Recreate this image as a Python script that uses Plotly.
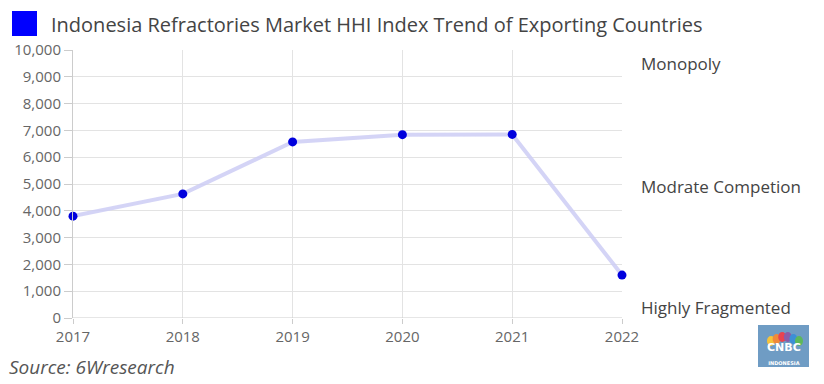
import plotly.graph_objects as go

years = [2017, 2018, 2019, 2020, 2021, 2022]
hhi = [3800, 4630, 6570, 6840, 6850, 1600]
y_ticks = list(range(0, 10001, 1000))
zone_labels = ["Monopoly", "Modrate Competion", "Highly Fragmented"]
zone_y = [9500, 4900, 400]
title_text = "Indonesia Refractories Market HHI Index Trend of Exporting Countries"
source_text = "Source: 6Wresearch"

# page body has an 8px margin; figure is sized to fit the window
OFF = 8
W, H = 824 - OFF, 384 - OFF
L, T, R, B = 73 - OFF, 50 - OFF, 622 - OFF, 318 - OFF
PW, PH = R - L, B - T


def px(x):
    return (x - OFF - L) / PW


def py(y):
    return (B - (y - OFF)) / PH


FONT = "Open Sans, Roboto, DejaVu Sans, sans-serif"

fig = go.Figure()
fig.add_trace(go.Scatter(
    x=years, y=hhi, mode="lines",
    line=dict(color="rgba(205,205,245,0.85)", width=4),
    hoverinfo="skip", showlegend=False, cliponaxis=False))
fig.add_trace(go.Scatter(
    x=years, y=hhi, mode="markers",
    marker=dict(color="#0000dd", size=9),
    showlegend=False, cliponaxis=False))

fig.update_layout(
    width=W, height=H,
    margin=dict(l=L, r=W - R, t=T, b=H - B, pad=0, autoexpand=False),
    paper_bgcolor="white", plot_bgcolor="white",
    font=dict(family=FONT, color="#666"),
    xaxis=dict(range=[2017, 2022], tickvals=years, ticktext=[str(y) for y in years],
               showgrid=True, gridcolor="#e3e3e3", zeroline=False, automargin=False,
               ticks="outside", ticklen=5, tickcolor="#ccc",
               tickfont=dict(size=15, color="#666"), fixedrange=True),
    yaxis=dict(range=[0, 10000], tickvals=y_ticks, tickformat=",",
               showgrid=True, gridcolor="#e3e3e3", zeroline=False, automargin=False,
               showline=True, linecolor="#ccc", linewidth=1,
               ticks="outside", ticklen=8, tickcolor="#ccc",
               tickfont=dict(size=15, color="#666"), fixedrange=True),
)
fig.add_shape(type="line", xref="paper", yref="y", x0=0, x1=1, y0=0, y1=0,
              line=dict(color="#ccc", width=1))

# title with blue square
fig.add_shape(type="rect", xref="paper", yref="paper",
              x0=px(12), x1=px(37), y0=py(36), y1=py(11),
              fillcolor="#0000ff", line=dict(width=0))
fig.add_annotation(x=px(49), y=py(24), xref="paper", yref="paper",
                   text=title_text, showarrow=False,
                   font=dict(size=20, color="#444"),
                   xanchor="left", yanchor="middle")

for lab, yy in zip(zone_labels, zone_y):
    fig.add_annotation(x=px(639), y=yy, xref="paper", yref="y", text=lab,
                       showarrow=False, xanchor="left", yanchor="middle",
                       font=dict(size=17, color="#444"))

fig.add_annotation(x=px(7), y=py(367), xref="paper", yref="paper",
                   text="<i>" + source_text + "</i>", showarrow=False,
                   xanchor="left", yanchor="middle",
                   font=dict(size=19, color="#555"))

# CNBC logo box (decoration)
fig.add_shape(type="rect", xref="paper", yref="paper",
              x0=px(758), x1=px(809), y0=py(367), y1=py(325),
              fillcolor="#6f9cc4", line=dict(width=0))
feather_colors = ["#f5c33b", "#f08a3a", "#e8434f", "#8a5ca8", "#3d8fd6", "#5cb85c"]
for i, c in enumerate(feather_colors):
    cx = 771 + i * 5.6
    cy = 342 - (6 - abs(i - 2.5) * 2.0)
    fig.add_shape(type="circle", xref="paper", yref="paper",
                  x0=px(cx - 4), x1=px(cx + 4), y0=py(cy + 5), y1=py(cy - 5),
                  fillcolor=c, line=dict(width=0))
fig.add_annotation(x=px(784), y=py(353), xref="paper", yref="paper",
                   text="<b>CNBC</b><br><span style='font-size:5px'><b>INDONESIA</b></span>",
                   showarrow=False, borderpad=0,
                   xanchor="center", yanchor="middle",
                   font=dict(size=11, color="white", family="DejaVu Sans"))

fig.write_html("out.html")
